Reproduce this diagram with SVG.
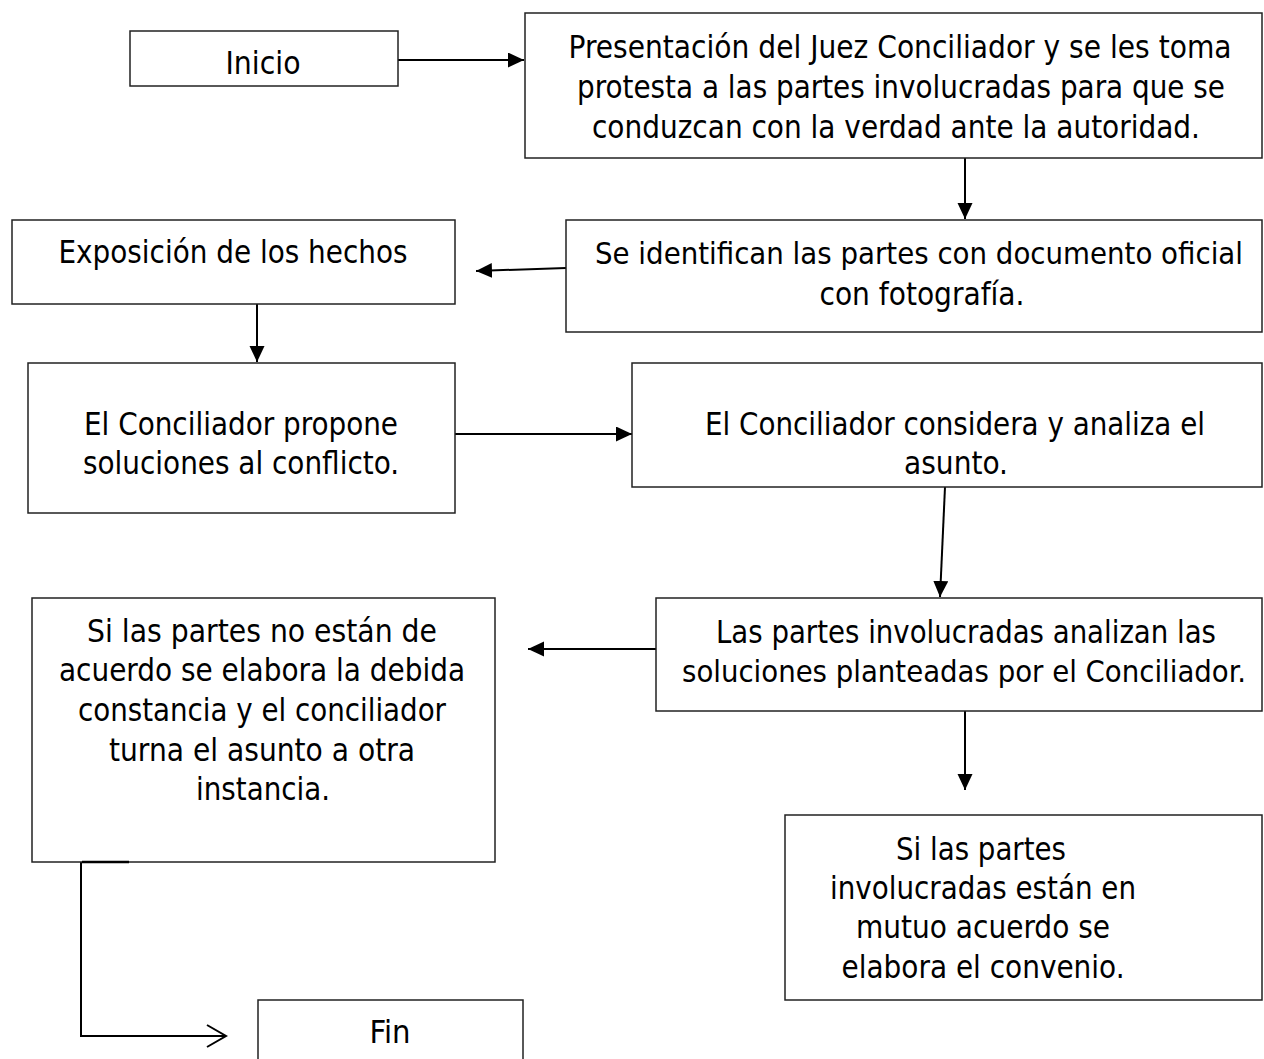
<svg xmlns="http://www.w3.org/2000/svg" width="1264" height="1059" viewBox="0 0 1264 1059">
<defs>
<style>
.box{fill:#fff;stroke:#222;stroke-width:1.5}
.t{font-family:"DejaVu Sans Condensed","DejaVu Sans",Verdana,sans-serif;font-stretch:semi-condensed;font-size:32px;fill:#000;text-anchor:middle}
.s{font-size:30.5px}
.c{fill:none;stroke:#000;stroke-width:2}
</style>
<marker id="ah" markerUnits="userSpaceOnUse" markerWidth="17" markerHeight="16" refX="16" refY="7.5" orient="auto">
<path d="M0,0 L16,7.5 L0,15 Z" fill="#000"/>
</marker>
<marker id="oh" markerUnits="userSpaceOnUse" markerWidth="22" markerHeight="26" refX="20" refY="12" orient="auto">
<path d="M1,1 L20,12 L1,23" fill="none" stroke="#000" stroke-width="2"/>
</marker>
</defs>
<rect width="1264" height="1059" fill="#fff"/>
<g id="connectors">
<line class="c" x1="398" y1="60" x2="524" y2="60" marker-end="url(#ah)"/>
<line class="c" x1="965" y1="158" x2="965" y2="219" marker-end="url(#ah)"/>
<line class="c" x1="566" y1="268" x2="476" y2="271" marker-end="url(#ah)"/>
<line class="c" x1="257" y1="304" x2="257" y2="362" marker-end="url(#ah)"/>
<line class="c" x1="455" y1="434" x2="632" y2="434" marker-end="url(#ah)"/>
<line class="c" x1="945" y1="487" x2="940" y2="597" marker-end="url(#ah)"/>
<line class="c" x1="656" y1="649" x2="528" y2="649" marker-end="url(#ah)"/>
<line class="c" x1="965" y1="711" x2="965" y2="790" marker-end="url(#ah)"/>
<polyline class="c" points="81,862 81,1036 226,1036" marker-end="url(#oh)"/>
</g>
<g id="n-inicio">
<rect class="box" x="130" y="31" width="268" height="55"/>
<text class="t" x="263" y="74" textLength="75" lengthAdjust="spacingAndGlyphs">Inicio</text>
</g>
<g id="n-presentacion">
<rect class="box" x="525" y="13" width="737" height="145"/>
<text class="t" x="900" y="58" textLength="663" lengthAdjust="spacingAndGlyphs">Presentación del Juez Conciliador y se les toma</text>
<text class="t" x="901" y="98" textLength="648" lengthAdjust="spacingAndGlyphs">protesta a las partes involucradas para que se</text>
<text class="t" x="896" y="138" textLength="608" lengthAdjust="spacingAndGlyphs">conduzcan con la verdad ante la autoridad.</text>
</g>
<g id="n-identifican">
<rect class="box" x="566" y="220" width="696" height="112"/>
<text class="t s" x="919" y="264" textLength="648" lengthAdjust="spacingAndGlyphs">Se identifican las partes con documento oficial</text>
<text class="t" x="922" y="305" textLength="205" lengthAdjust="spacingAndGlyphs">con fotografía.</text>
</g>
<g id="n-exposicion">
<rect class="box" x="12" y="220" width="443" height="84"/>
<text class="t" x="233" y="263" textLength="349" lengthAdjust="spacingAndGlyphs">Exposición de los hechos</text>
</g>
<g id="n-propone">
<rect class="box" x="28" y="363" width="427" height="150"/>
<text class="t" x="241" y="435" textLength="314" lengthAdjust="spacingAndGlyphs">El Conciliador propone</text>
<text class="t" x="241" y="474" textLength="316" lengthAdjust="spacingAndGlyphs">soluciones al conflicto.</text>
</g>
<g id="n-considera">
<rect class="box" x="632" y="363" width="630" height="124"/>
<text class="t" x="955" y="435" textLength="500" lengthAdjust="spacingAndGlyphs">El Conciliador considera y analiza el</text>
<text class="t" x="956" y="474" textLength="104" lengthAdjust="spacingAndGlyphs">asunto.</text>
</g>
<g id="n-analizan">
<rect class="box" x="656" y="598" width="606" height="113"/>
<text class="t" x="966" y="643" textLength="500" lengthAdjust="spacingAndGlyphs">Las partes involucradas analizan las</text>
<text class="t s" x="964" y="682" textLength="564" lengthAdjust="spacingAndGlyphs">soluciones planteadas por el Conciliador.</text>
</g>
<g id="n-desacuerdo">
<rect class="box" x="32" y="598" width="463" height="264"/>
<line x1="82" y1="862" x2="129" y2="862" stroke="#000" stroke-width="2.5"/>
<text class="t" x="262" y="642" textLength="350" lengthAdjust="spacingAndGlyphs">Si las partes no están de</text>
<text class="t" x="262" y="681" textLength="406" lengthAdjust="spacingAndGlyphs">acuerdo se elabora la debida</text>
<text class="t" x="262" y="721" textLength="368" lengthAdjust="spacingAndGlyphs">constancia y el conciliador</text>
<text class="t" x="262" y="761" textLength="306" lengthAdjust="spacingAndGlyphs">turna el asunto a otra</text>
<text class="t" x="263" y="800" textLength="134" lengthAdjust="spacingAndGlyphs">instancia.</text>
</g>
<g id="n-acuerdo">
<rect class="box" x="785" y="815" width="477" height="185"/>
<text class="t" x="981" y="860" textLength="170" lengthAdjust="spacingAndGlyphs">Si las partes</text>
<text class="t" x="983" y="899" textLength="306" lengthAdjust="spacingAndGlyphs">involucradas están en</text>
<text class="t" x="983" y="938" textLength="254" lengthAdjust="spacingAndGlyphs">mutuo acuerdo se</text>
<text class="t" x="983" y="978" textLength="283" lengthAdjust="spacingAndGlyphs">elabora el convenio.</text>
</g>
<g id="n-fin">
<rect class="box" x="258" y="1000" width="265" height="70"/>
<text class="t" x="390" y="1043" textLength="41" lengthAdjust="spacingAndGlyphs">Fin</text>
</g>
</svg>
